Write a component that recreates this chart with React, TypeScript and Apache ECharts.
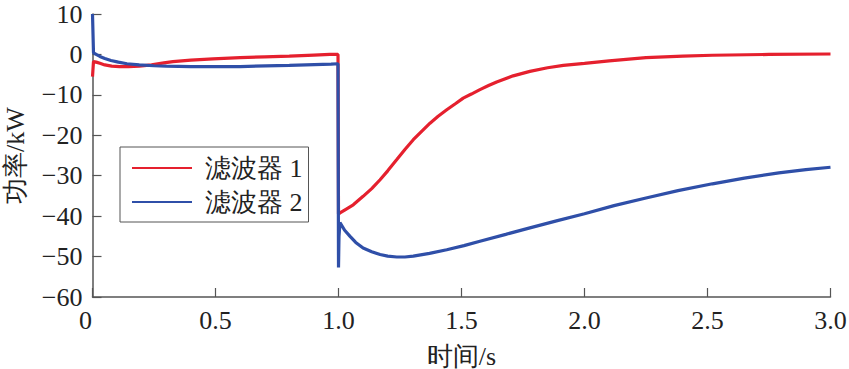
import React, { useEffect, useRef } from "react";
import * as echarts from "echarts";

const seriesNames = ["滤波器 1", "滤波器 2"];

const t1 = [0, 0.004, 0.015, 0.03, 0.05, 0.078, 0.11, 0.146, 0.19, 0.24, 0.29, 0.327, 0.4, 0.49, 0.6, 0.7, 0.8, 0.9, 0.965, 0.998,
  1.0, 1.006, 1.03, 1.06, 1.1, 1.135, 1.169, 1.2, 1.237, 1.27, 1.304, 1.34, 1.372, 1.405, 1.44, 1.475, 1.507, 1.54, 1.575, 1.61, 1.643,
  1.71, 1.778, 1.85, 1.914, 2.0, 2.1, 2.25, 2.4, 2.52, 2.75, 3.0];
const p1 = [-5.5, -1.8, -1.9, -2.2, -2.6, -2.9, -3.0, -3.0, -2.9, -2.6, -2.1, -1.8, -1.4, -1.1, -0.8, -0.6, -0.4, -0.15, 0, 0,
  -39.5, -39.2, -38.3, -37.2, -35.1, -33.2, -31, -28.8, -26, -23.5, -21.1, -18.9, -17, -15.3, -13.7, -12.2, -10.8, -9.8, -8.7, -7.7, -6.8,
  -5.3, -4.2, -3.3, -2.7, -2.2, -1.6, -0.8, -0.4, -0.2, 0, 0.1];

const t2 = [0, 0.004, 0.015, 0.03, 0.05, 0.075, 0.105, 0.14, 0.19, 0.25, 0.3, 0.4, 0.6, 0.8, 0.97, 0.998,
  1.0, 1.002, 1.006, 1.025, 1.047, 1.07, 1.1, 1.135, 1.169, 1.2, 1.237, 1.27, 1.304, 1.37, 1.44, 1.51, 1.575, 1.68, 1.778, 1.89,
  2.0, 2.12, 2.25, 2.38, 2.52, 2.65, 2.79, 2.9, 3.0];
const p2 = [10, 0.4, 0, -0.5, -1.0, -1.5, -1.9, -2.3, -2.6, -2.8, -2.9, -3.0, -3.0, -2.7, -2.4, -2.3,
  -52.7, -45, -41.6, -43.5, -45, -46.5, -47.9, -48.8, -49.5, -49.9, -50.1, -50.1, -49.9, -49.2, -48.3, -47.3, -46.2, -44.5, -42.9, -41.1,
  -39.4, -37.4, -35.5, -33.7, -32, -30.6, -29.3, -28.5, -27.9];

const xTicks = [0, 0.5, 1.0, 1.5, 2.0, 2.5, 3.0];
const yTicks = [-60, -50, -40, -30, -20, -10, 0, 10];

const FONT = "Liberation Serif, Times New Roman, serif";

export default function App() {
  const ref = useRef<HTMLDivElement>(null);
  useEffect(() => {
    if (!ref.current) return;
    const chart = echarts.init(ref.current, null, { renderer: "svg" });
    const zip = (t: number[], p: number[]) => t.map((x, i) => [x, p[i]]);
    chart.setOption({
      animation: false,
      backgroundColor: "#ffffff",
      textStyle: { fontFamily: FONT },
      grid: { left: 92.5, right: 18.5, top: 14, bottom: 72, containLabel: false, outerBoundsMode: "none" },
      legend: {
        orient: "vertical",
        left: 120,
        top: 147,
        padding: [8, 6, 7, 12],
        borderColor: "#555",
        borderWidth: 1,
        itemWidth: 60,
        itemHeight: 2,
        itemGap: 8,
        icon: "rect",
        data: seriesNames,
        textStyle: { fontFamily: FONT, fontSize: 26, color: "#222", lineHeight: 26, padding: [0, 0, 0, 8] },
      },
      xAxis: {
        type: "value",
        min: xTicks[0],
        max: xTicks[xTicks.length - 1],
        interval: 0.5,
        name: "时间/s",
        nameLocation: "middle",
        nameGap: 46,
        nameTextStyle: { fontFamily: FONT, fontSize: 26, color: "#222" },
        axisLine: { onZero: false, lineStyle: { color: "#555", width: 1.5 } },
        axisTick: { inside: true, length: 9, lineStyle: { color: "#555", width: 1.2 } },
        splitLine: { show: false },
        axisLabel: {
          margin: 10,
          fontFamily: FONT,
          fontSize: 26,
          color: "#222",
          formatter: (v: number) => (v === 0 ? "{z|0}" : v.toFixed(1)),
          rich: { z: { fontFamily: FONT, fontSize: 26, color: "#222", padding: [0, 14, 0, 0] } },
        },
      },
      yAxis: {
        type: "value",
        min: yTicks[0],
        max: yTicks[yTicks.length - 1],
        interval: 10,
        name: "功率/kW",
        nameLocation: "middle",
        nameGap: 64,
        nameTextStyle: { fontFamily: FONT, fontSize: 26, color: "#222" },
        axisLine: { show: true, onZero: false, lineStyle: { color: "#555", width: 1.5 } },
        axisTick: { show: true, inside: true, length: 9, lineStyle: { color: "#555", width: 1.2 } },
        splitLine: { show: false },
        axisLabel: {
          margin: 10,
          fontFamily: FONT,
          fontSize: 26,
          color: "#222",
          formatter: (v: number) => (v < 0 ? "\u2212" + Math.abs(v) : String(v)),
        },
      },
      series: [
        {
          name: seriesNames[0],
          type: "line",
          data: zip(t1, p1),
          symbol: "none",
          smooth: false,
          lineStyle: { color: "#e5202e", width: 3.2 },
          itemStyle: { color: "#e5202e" },
          z: 2,
        },
        {
          name: seriesNames[1],
          type: "line",
          data: zip(t2, p2),
          symbol: "none",
          smooth: false,
          lineStyle: { color: "#2f4fa8", width: 3.2 },
          itemStyle: { color: "#2f4fa8" },
          z: 3,
        },
      ],
    });
    return () => chart.dispose();
  }, []);
  return <div ref={ref} style={{ position: "absolute", left: 0, top: 0, width: 849, height: 369 }} />;
}
